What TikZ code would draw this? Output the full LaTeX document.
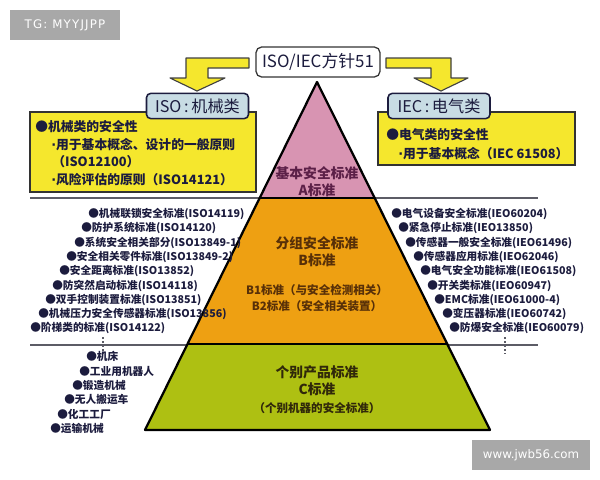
\documentclass[tikz,border=0pt]{standalone}
\usepackage{fontspec}
\setmainfont{Noto Sans CJK SC}
\newfontfamily\markfont{DejaVu Sans}
\usepackage{xcolor}
\usetikzlibrary{calc}

\definecolor{boxyellow}{RGB}{245,231,45}
\definecolor{labelblue}{RGB}{200,220,228}
\definecolor{navytext}{RGB}{28,28,62}
\definecolor{pinklayer}{RGB}{216,148,178}
\definecolor{orangelayer}{RGB}{238,160,18}
\definecolor{greenlayer}{RGB}{174,192,18}
\definecolor{pinktext}{RGB}{92,32,72}
\definecolor{orangetext}{RGB}{88,48,8}
\definecolor{greentext}{RGB}{48,40,10}
\definecolor{markgray}{RGB}{168,168,168}
\definecolor{sepgray}{RGB}{92,92,102}

\newcommand{\middot}{{\markfont\bfseries·}}

\tikzset{
  watermark/.style={fill=markgray, text=white, inner sep=0pt, minimum height=7.5mm,
    font=\markfont\fontsize{8.4}{10}\selectfont},
  topbox/.style={draw=black!80, line width=0.9pt, fill=white, rounded corners=4pt,
    minimum width=31mm, minimum height=7.5mm, inner sep=0pt, text=navytext,
    font=\fontsize{12}{14}\selectfont},
  yellowbox/.style={draw=black!80, line width=0.9pt, fill=boxyellow, inner sep=0pt},
  labelbox/.style={draw=navytext, line width=1.1pt, fill=labelblue, rounded corners=3pt,
    minimum width=25.5mm, minimum height=6.3mm, inner sep=0pt, text=navytext,
    font=\fontsize{11.5}{13}\selectfont},
  boxline/.style={anchor=west, inner sep=0pt, text=navytext,
    font=\bfseries\fontsize{9.1}{11}\selectfont},
  liststd/.style={anchor=west, inner sep=0pt, text=navytext,
    font=\bfseries\fontsize{7.6}{9}\selectfont},
  layerhead/.style={inner sep=0pt, font=\bfseries\fontsize{9.8}{12}\selectfont},
  layersub/.style={inner sep=0pt, font=\bfseries\fontsize{8.2}{10}\selectfont},
  sepline/.style={draw=sepgray, line width=1pt},
  dotmark/.style={draw=sepgray, line width=1.2pt, dash pattern=on 1.3pt off 1.6pt},
  blockarrow/.style={draw=black!75, line width=0.8pt, fill=boxyellow, line join=round}
}

\begin{document}
\begin{tikzpicture}[x=0.25mm,y=-0.25mm]
    \useasboundingbox (0,0) rectangle (600,480);

    % Watermarks
    \node[watermark, minimum width=27.5mm] (tgMark) at (65,25) {\addfontfeature{LetterSpace=10}TG: MYYJJPP};
    \node[watermark, minimum width=29.5mm] (webMark) at (531,455) {www.jwb56.com};

    % Separator lines
    \draw[sepline] (30,198) -- (538,198);
    \draw[sepline] (30,345) -- (538,345);
    \draw[dotmark] (103,337) -- (103,354);
    \draw[dotmark] (505,337) -- (505,354);

    % Pyramid
    \coordinate (apex) at (317,82);
    \coordinate (baseL) at (145,430);
    \coordinate (baseR) at (490,430);
    \coordinate (aL) at ($(apex)!0.3333!(baseL)$);
    \coordinate (aR) at ($(apex)!0.3333!(baseR)$);
    \coordinate (bL) at ($(apex)!0.7529!(baseL)$);
    \coordinate (bR) at ($(apex)!0.7529!(baseR)$);
    \fill[pinklayer] (apex) -- (aL) -- (aR) -- cycle;
    \fill[orangelayer] (aL) -- (bL) -- (bR) -- (aR) -- cycle;
    \fill[greenlayer] (bL) -- (baseL) -- (baseR) -- (bR) -- cycle;
    \draw[line width=1.6pt] (aL) -- (aR);
    \draw[line width=1.6pt] (bL) -- (bR);
    \draw[line width=1.6pt, line join=round] (apex) -- (baseL) -- (baseR) -- cycle;

    % Layer texts
    \node[layerhead, text=pinktext] (layerA) at (317,173) {基本安全标准};
    \node[layerhead, text=pinktext] (layerAsub) at (317,190) {A标准};
    \node[layerhead, text=orangetext] (layerB) at (317,243) {分组安全标准};
    \node[layerhead, text=orangetext] (layerBsub) at (317,260) {B标准};
    \node[layersub, text=orangetext] (layerB1) at (317,290) {B1标准（与安全检测相关）};
    \node[layersub, text=orangetext] (layerB2) at (317,306) {B2标准（安全相关装置）};
    \node[layerhead, text=greentext] (layerC) at (317,372) {个别产品标准};
    \node[layerhead, text=greentext] (layerCsub) at (317,389) {C标准};
    \node[layersub, text=greentext] (layerCnote) at (317,408) {（个别机器的安全标准）};

    % Block arrows from the top box
    \draw[blockarrow] (249,58) -- (186,58) -- (186,78) -- (170,78) -- (197,91)
        -- (225,78) -- (208,78) -- (208,68) -- (249,68) -- cycle;
    \draw[blockarrow] (386,58) -- (451,58) -- (451,78) -- (468,78) -- (441,91)
        -- (414,78) -- (431,78) -- (431,68) -- (386,68) -- cycle;
    \node[topbox] (guide) at (318,62) {ISO/IEC方针51};

    % ISO side box
    \node[yellowbox, minimum width=56.5mm, minimum height=20mm] (isoBox) at (143,152) {};
    \node[labelbox] (isoLabel) at (197.5,106) {ISO\,:\,机械类};
    \node[boxline] (isoLine1) at (35,127) {●机械类的安全性};
    \node[boxline] (isoLine2) at (51,145) {\middot 用于基本概念、设计的一般原则};
    \node[boxline] (isoLine3) at (52,162) {（ISO12100）};
    \node[boxline] (isoLine4) at (51,180) {\middot 风险评估的原则（ISO14121）};

    % IEC side box
    \node[yellowbox, minimum width=49.25mm, minimum height=13.25mm] (iecBox) at (476.5,138.5) {};
    \node[labelbox] (iecLabel) at (439,106) {IEC\,:\,电气类};
    \node[boxline] (iecLine1) at (386,135) {●电气类的安全性};
    \node[boxline] (iecLine2) at (398,154) {\middot 用于基本概念（IEC 61508）};

    % B standards, ISO
    \node[liststd] (isoB1) at (88,214) {●机械联锁安全标准(ISO14119)};
    \node[liststd] (isoB2) at (81,228) {●防护系统标准(ISO14120)};
    \node[liststd] (isoB3) at (74,243) {●系统安全相关部分(ISO13849-1)};
    \node[liststd] (isoB4) at (66,257) {●安全相关零件标准(ISO13849-2)};
    \node[liststd] (isoB5) at (59,271) {●安全距离标准(ISO13852)};
    \node[liststd] (isoB6) at (52,286) {●防突然启动标准(ISO14118)};
    \node[liststd] (isoB7) at (45,300) {●双手控制装置标准(ISO13851)};
    \node[liststd] (isoB8) at (38,314) {●机械压力安全传感器标准(ISO13856)};
    \node[liststd] (isoB9) at (30,328) {●阶梯类的标准(ISO14122)};

    % B standards, IEC
    \node[liststd] (iecB1) at (391,214) {●电气设备安全标准(IEO60204)};
    \node[liststd] (iecB2) at (398,228) {●紧急停止标准(IEO13850)};
    \node[liststd] (iecB3) at (405,243) {●传感器一般安全标准(IEO61496)};
    \node[liststd] (iecB4) at (413,257) {●传感器应用标准(IEO62046)};
    \node[liststd] (iecB5) at (420,271) {●电气安全功能标准(IEO61508)};
    \node[liststd] (iecB6) at (427,286) {●开关类标准(IEO60947)};
    \node[liststd] (iecB7) at (434,300) {●EMC标准(IEO61000-4)};
    \node[liststd] (iecB8) at (442,314) {●变压器标准(IEO60742)};
    \node[liststd] (iecB9) at (449,328) {●防爆安全标准(IEO60079)};

    % C standards
    \node[liststd] (prodC1) at (86,356) {●机床};
    \node[liststd] (prodC2) at (79,371) {●工业用机器人};
    \node[liststd] (prodC3) at (72,385) {●锻造机械};
    \node[liststd] (prodC4) at (64,399) {●无人搬运车};
    \node[liststd] (prodC5) at (57,414) {●化工工厂};
    \node[liststd] (prodC6) at (50,428) {●运输机械};
\end{tikzpicture}
\end{document}
